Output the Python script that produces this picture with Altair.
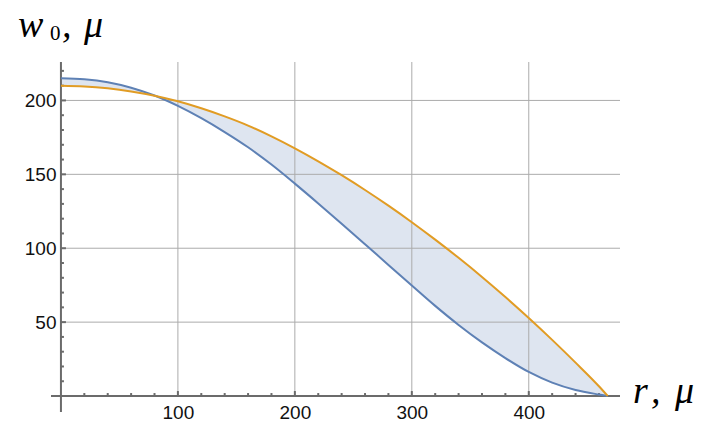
import altair as alt
import pandas as pd

# ---- data ----
r_vals = [0, 20, 40, 60, 80, 100, 120, 140, 160, 180, 200, 220, 240, 260, 280,
          300, 320, 340, 360, 380, 400, 420, 440, 460, 467.5]
blue_vals = [215, 214.3, 212.3, 208.6, 203.3, 196.3, 188, 178.6, 168.3, 156.6, 143.7,
             130.3, 116.6, 102.7, 88.7, 74.8, 61, 48.1, 36.3, 25.7, 16.3, 9.1, 4.1, 1.0, 0]
orange_vals = [210, 209.5, 208.2, 206.1, 203.2, 199.4, 194.7, 189.2, 183, 175.7, 167.6,
               158.8, 149.4, 139.4, 128.8, 117.6, 105.8, 93.5, 80.6, 67, 52.8, 38, 22.6, 6.6, 0]

x_major = [100, 200, 300, 400]
x_minor = [20, 40, 60, 80, 120, 140, 160, 180, 220, 240, 260, 280,
           320, 340, 360, 380, 420, 440, 460]
y_major = [50, 100, 150, 200]
y_minor = [10, 20, 30, 40, 60, 70, 80, 90, 110, 120, 130, 140,
           160, 170, 180, 190, 210, 220]

y_title = ["w", "0", ",", "μ"]
x_title = ["r", ",", "μ"]

W, H = 569, 350
xs = alt.Scale(domain=[-8.5, 478], nice=False, zero=False)
ys = alt.Scale(domain=[-10.8, 226], nice=False, zero=False)

BLUE = "#5e81b5"
ORANGE = "#e19c24"
FILL = "#dee5f0"
GRID = "#ababab"
AXIS = "#6b6b6b"

df = pd.DataFrame({"r": r_vals, "blue": blue_vals, "orange": orange_vals})

lab = dict(labelFont="Liberation Sans", labelFontSize=19, labelColor="#111",
           grid=False, ticks=False, domain=False, title=None)
AX = alt.Axis(values=x_major, offset=-16, labelPadding=7, **lab)
AY = alt.Axis(values=y_major, offset=-10, labelPadding=5, **lab)

def X(f):
    return alt.X(f, scale=xs, axis=AX)

def Y(f):
    return alt.Y(f, scale=ys, axis=AY)

area = alt.Chart(df).mark_area(color=FILL, interpolate="monotone").encode(
    x=X("r:Q"), y=Y("blue:Q"), y2="orange:Q")

vg = pd.DataFrame({"v": x_major, "y0": [0] * len(x_major)})
hg = pd.DataFrame({"v": y_major, "x0": [0] * len(y_major)})
vgrid = alt.Chart(vg).mark_rule(color=GRID, strokeWidth=1).encode(
    x=X("v:Q"), y=Y("y0:Q"), y2=alt.value(0))
hgrid = alt.Chart(hg).mark_rule(color=GRID, strokeWidth=1).encode(
    y=Y("v:Q"), x=X("x0:Q"), x2=alt.value(W))

xaxis_line = alt.Chart(pd.DataFrame({"y0": [0]})).mark_rule(color=AXIS, strokeWidth=2).encode(
    y=Y("y0:Q"))
yaxis_line = alt.Chart(pd.DataFrame({"x0": [0]})).mark_rule(color=AXIS, strokeWidth=2).encode(
    x=X("x0:Q"))

def xticks(vals, size):
    d = pd.DataFrame({"v": vals, "y0": [0] * len(vals)})
    return alt.Chart(d).mark_rule(color=AXIS, strokeWidth=2, y2Offset=-size).encode(
        x=X("v:Q"), y=Y("y0:Q"), y2="y0:Q")

def yticks(vals, size):
    d = pd.DataFrame({"v": vals, "x0": [0] * len(vals)})
    return alt.Chart(d).mark_rule(color=AXIS, strokeWidth=2, x2Offset=size).encode(
        y=Y("v:Q"), x=X("x0:Q"), x2="x0:Q")

line_b = alt.Chart(df).mark_line(color=BLUE, strokeWidth=2, interpolate="monotone").encode(
    x=X("r:Q"), y=Y("blue:Q"))
line_o = alt.Chart(df).mark_line(color=ORANGE, strokeWidth=2, interpolate="monotone").encode(
    x=X("r:Q"), y=Y("orange:Q"))

def txt(s, x, y, size, italic=True):
    kw = dict(font="Liberation Serif", fontSize=size, align="left", baseline="alphabetic", color="#000")
    if italic:
        kw["fontStyle"] = "italic"
    return alt.Chart(pd.DataFrame({"t": [s]})).mark_text(**kw).encode(
        text="t:N", x=alt.value(x), y=alt.value(y))

titles = [
    txt(y_title[0], -33, -25, 38),
    txt(y_title[1], -1, -22, 21, italic=False),
    txt(y_title[2], 11, -25, 38),
    txt(y_title[3], 33, -25, 38),
    txt(x_title[0], 582, 341, 38),
    txt(x_title[1], 600, 341, 38),
    txt(x_title[2], 624, 341, 38),
]

chart = alt.layer(
    area, vgrid, hgrid, xaxis_line, yaxis_line,
    xticks(x_major, 5), xticks(x_minor, 3), yticks(y_major, 5), yticks(y_minor, 3),
    line_b, line_o, *titles,
).properties(
    width=W, height=H,
    autosize=alt.AutoSizeParams(type="none"),
    padding={"left": 43, "top": 54, "right": 88, "bottom": 12},
    background="white",
).configure_view(stroke=None)

chart.save("out.html", embed_options={"renderer": "svg", "actions": False})
